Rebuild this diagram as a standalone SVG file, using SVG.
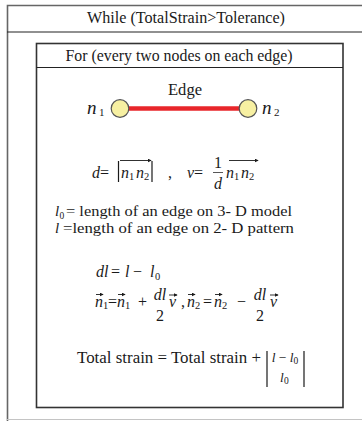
<svg xmlns="http://www.w3.org/2000/svg" width="362" height="421" viewBox="0 0 362 421">
<style>
text{fill:#1a1a1a;font-family:"Liberation Serif","Times New Roman",serif}
.t15{font-size:16px}
.t16{font-size:16.5px}
.d15{font-size:15px}
.i{font-style:italic}
.sub{font-size:10.5px}
.bar{stroke:#1a1a1a;stroke-width:1.2}
.fb{stroke:#444;stroke-width:0.9}
.vec{stroke:#1a1a1a;stroke-width:0.9;fill:none;marker-end:url(#ah)}
</style>
<defs>
<marker id="ah" viewBox="0 0 6 6" refX="5" refY="3" markerWidth="4" markerHeight="4" orient="auto" markerUnits="userSpaceOnUse">
<path d="M0,0 L6,3 L0,6 z" fill="#1a1a1a"/>
</marker>
</defs>
<rect width="362" height="421" fill="#fff"/>
<g id="while-loop">
<path d="M7.5,421 V5.5 H362" fill="none" stroke="#666" stroke-width="1.6"/>
<line x1="7" y1="32" x2="362" y2="32" stroke="#222" stroke-width="1.2"/>
<line x1="7" y1="419.5" x2="362" y2="419.5" stroke="#c4c4c4" stroke-width="1"/>
<text class="t15" x="186" y="23" text-anchor="middle" textLength="198" lengthAdjust="spacingAndGlyphs">While (TotalStrain&gt;Tolerance)</text>
</g>

<g id="for-loop">
<rect x="36.5" y="43.5" width="306.5" height="364" fill="none" stroke="#333" stroke-width="1.6"/>
<line x1="36.5" y1="67.5" x2="343" y2="67.5" stroke="#222" stroke-width="1.2"/>
<text class="t15" x="179" y="61" text-anchor="middle" textLength="227" lengthAdjust="spacingAndGlyphs">For (every two nodes on each edge)</text>
</g>

<g id="connectors">
<line id="edge" x1="128" y1="108.5" x2="240" y2="108.5" stroke="#e8262b" stroke-width="4.5"/>
</g>

<g id="node-n1">
<circle cx="120" cy="108.5" r="8.8" fill="#f7f0a2" stroke="#555" stroke-width="1.2"/>
<text x="87" y="114" class="i" font-size="19">n</text>
<text x="99" y="116" font-size="11">1</text>
</g>
<g id="node-n2">
<circle cx="248" cy="108.5" r="8.8" fill="#f7f0a2" stroke="#555" stroke-width="1.2"/>
<text x="262" y="114" class="i" font-size="19">n</text>
<text x="274" y="116" font-size="11">2</text>
</g>
<text class="t16" x="185" y="95" text-anchor="middle" textLength="34" lengthAdjust="spacingAndGlyphs">Edge</text>

<g id="formula-d-v">
<text class="t15" x="92" y="178"><tspan class="i">d</tspan>=</text>
<line class="bar" x1="118.5" y1="161" x2="118.5" y2="182"/>
<line class="bar" x1="152" y1="161" x2="152" y2="182"/>
<text class="t15 i" x="121" y="178">n</text>
<text class="sub" x="129" y="180">1</text>
<text class="t15 i" x="136" y="178">n</text>
<text class="sub" x="144" y="180">2</text>
<line class="vec" x1="120" y1="160.5" x2="151" y2="160.5"/>
<text class="t15" x="168" y="178">,</text>
<text class="t15" x="187" y="178"><tspan class="i">v</tspan>=</text>
<text class="t15" x="218" y="168" text-anchor="middle">1</text>
<line class="fb" x1="213" y1="172.5" x2="223" y2="172.5"/>
<text class="t15 i" x="218" y="189" text-anchor="middle">d</text>
<text class="t15 i" x="226" y="178">n</text>
<text class="sub" x="234" y="180">1</text>
<text class="t15 i" x="241" y="178">n</text>
<text class="sub" x="249" y="180">2</text>
<line class="vec" x1="229" y1="160.5" x2="258" y2="160.5"/>
</g>

<g id="definitions">
<text class="d15 i" x="55" y="216">l</text>
<text font-size="9.5" x="59.5" y="218.5">0</text>
<text class="d15" x="66" y="216" textLength="226" lengthAdjust="spacingAndGlyphs">= length of an edge on 3- D model</text>
<text class="d15 i" x="55" y="233">l</text>
<text class="d15" x="63" y="233" textLength="231" lengthAdjust="spacingAndGlyphs">=length of an edge on 2- D pattern</text>
</g>

<g id="formula-dl">
<text class="t15 i" x="96" y="277">dl</text>
<text class="t15" x="111" y="277">=</text>
<text class="t15 i" x="125" y="277">l</text>
<text class="t15" x="133" y="277">−</text>
<text class="t15 i" x="150" y="277">l</text>
<text class="sub" x="155" y="280">0</text>
</g>

<g id="formula-update">
<text class="t15 i" x="95" y="307">n</text>
<text class="sub" x="103" y="309">1</text>
<line class="vec" x1="96" y1="294.5" x2="103" y2="294.5"/>
<text class="t15" x="108" y="307">=</text>
<text class="t15 i" x="117" y="307">n</text>
<text class="sub" x="125" y="309">1</text>
<line class="vec" x1="118" y1="294.5" x2="125" y2="294.5"/>
<text class="t15" x="138" y="307">+</text>
<text class="t15 i" x="160" y="300" text-anchor="middle">dl</text>
<text class="t15" x="160" y="321" text-anchor="middle">2</text>
<text class="t15 i" x="169" y="307">v</text>
<line class="vec" x1="169" y1="295" x2="177" y2="295"/>
<text class="t15" x="181" y="307">,</text>
<text class="t15 i" x="187" y="307">n</text>
<text class="sub" x="195" y="309">2</text>
<line class="vec" x1="188" y1="294.5" x2="195" y2="294.5"/>
<text class="t15" x="203" y="307">=</text>
<text class="t15 i" x="214" y="307">n</text>
<text class="sub" x="222" y="309">2</text>
<line class="vec" x1="215" y1="294.5" x2="222" y2="294.5"/>
<text class="t15" x="237" y="307">−</text>
<text class="t15 i" x="260" y="300" text-anchor="middle">dl</text>
<text class="t15" x="260" y="321" text-anchor="middle">2</text>
<text class="t15 i" x="270" y="307">v</text>
<line class="vec" x1="270" y1="295" x2="278" y2="295"/>
</g>

<g id="formula-strain">
<text class="t16" x="77" y="363" textLength="184" lengthAdjust="spacingAndGlyphs">Total strain = Total strain +</text>
<line class="bar" x1="267" y1="351" x2="267" y2="387"/>
<line class="bar" x1="304" y1="351" x2="304" y2="387"/>
<text font-size="13.5" x="285" y="362" text-anchor="middle"><tspan class="i">l</tspan> − <tspan class="i">l</tspan><tspan font-size="9.5" dy="2">0</tspan></text>
<text font-size="13.5" class="i" x="280" y="382">l</text>
<text font-size="9.5" x="284" y="384">0</text>
</g>
</svg>
